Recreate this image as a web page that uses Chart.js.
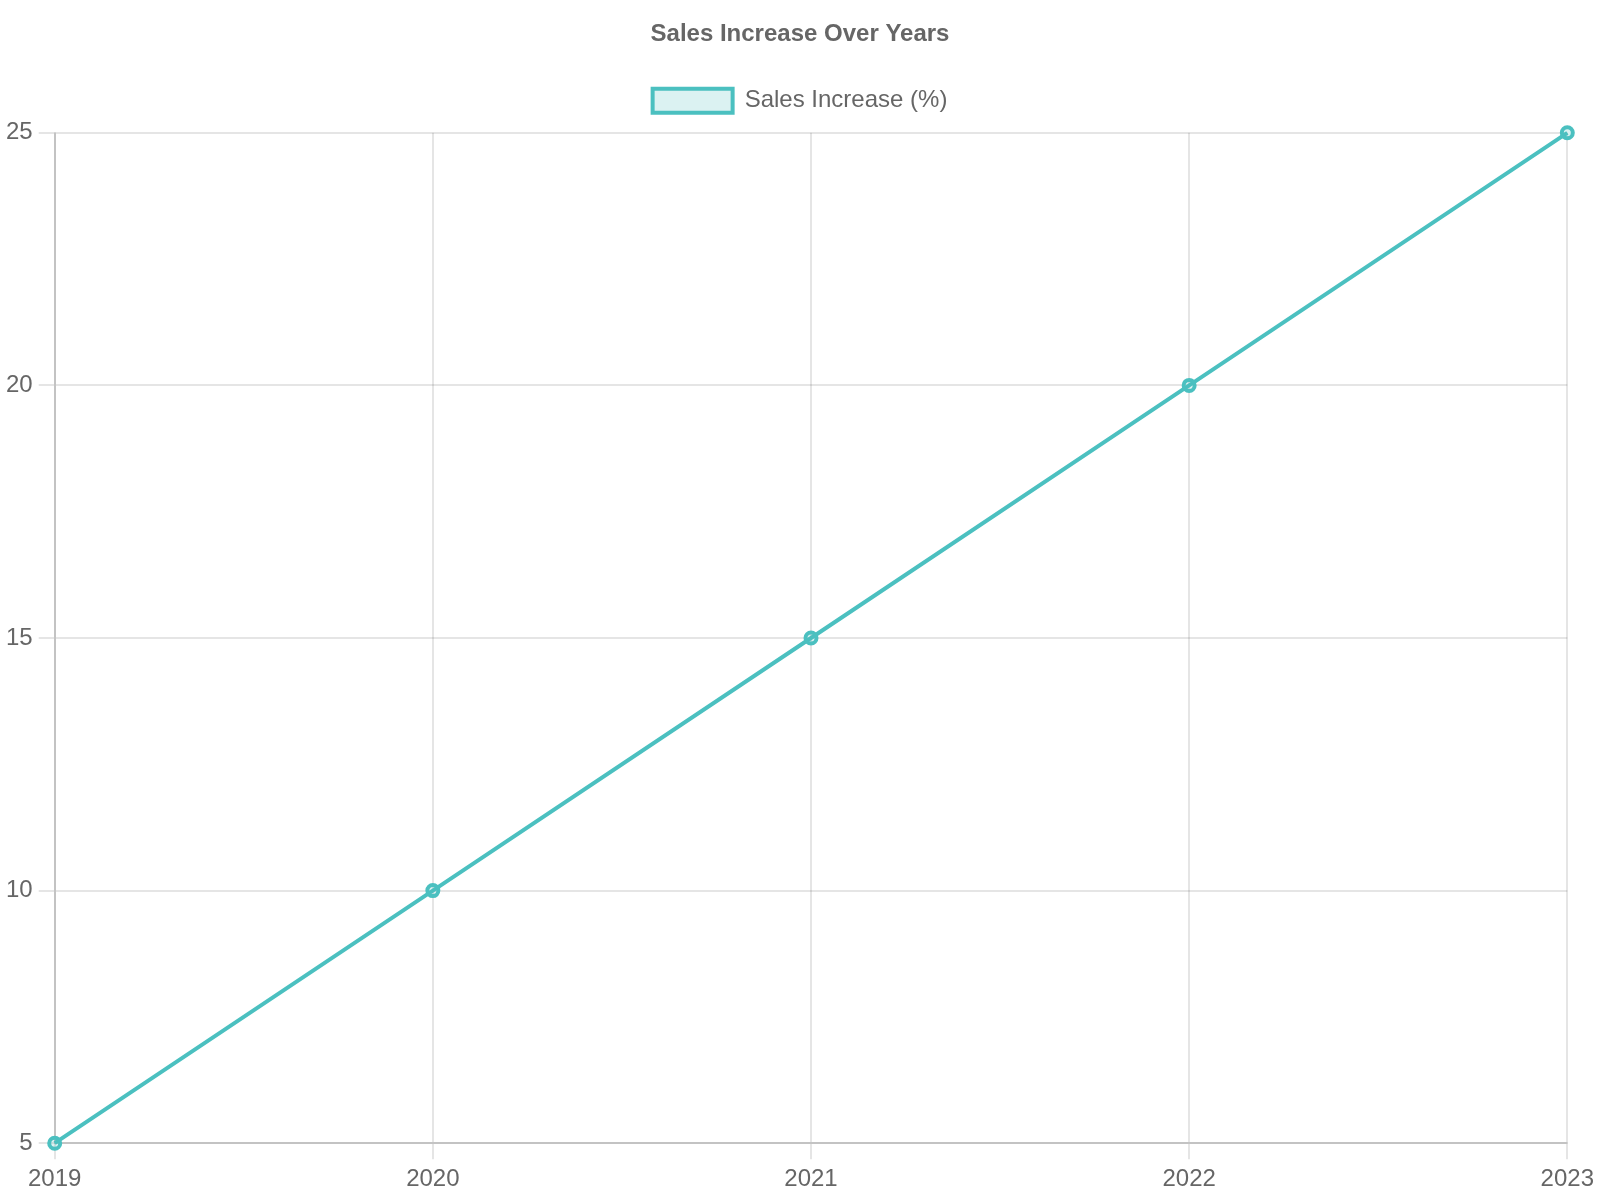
<!DOCTYPE html>
<html><head><meta charset="utf-8">
<script src="https://cdn.jsdelivr.net/npm/chart.js@4.4.0/dist/chart.umd.min.js"></script>
<style>html,body{margin:0;padding:0;background:#fff;}#c{display:block;}</style>
</head><body>
<canvas id="c" width="1600" height="1200"></canvas>
<script>
const years = ['2019', '2020', '2021', '2022', '2023'];
const salesIncrease = [5, 10, 15, 20, 25];
const yTicks = [5, 10, 15, 20, 25];

Chart.defaults.font.family = '"Liberation Sans", Arial, sans-serif';
Chart.defaults.font.size = 24;
Chart.defaults.color = '#666';

const legendMargin = {
  id: 'legendMargin',
  beforeInit(chart) {
    const lg = chart.legend;
    if (!lg) return;
    const origFit = lg.fit;
    lg.fit = function () { origFit.call(this); this.height += 10; };
  }
};

new Chart(document.getElementById('c'), {
  type: 'line',
  data: {
    labels: years,
    datasets: [{
      label: 'Sales Increase (%)',
      data: salesIncrease,
      borderColor: 'rgb(75,192,192)',
      backgroundColor: 'rgba(75,192,192,0.2)',
      borderWidth: 4,
      pointRadius: 5.5,
      pointBorderWidth: 4,
      fill: false,
      clip: false,
      tension: 0
    }]
  },
  plugins: [legendMargin],
  options: {
    responsive: false,
    devicePixelRatio: 1,
    animation: false,
    layout: { padding: 0 },
    plugins: {
      title: { display: true, text: 'Sales Increase Over Years', font: { size: 24, weight: 'bold' }, padding: { top: 20, bottom: 20 } },
      legend: { labels: { boxWidth: 80, boxHeight: 24, padding: 20 } }
    },
    scales: {
      x: {
        grid: { color: 'rgba(0,0,0,0.1)', lineWidth: 2, tickLength: 16 },
        border: { color: 'rgba(0,0,0,0.15)', width: 2 },
        ticks: { padding: 6, maxRotation: 0 }
      },
      y: {
        min: 5, max: 25,
        afterBuildTicks: (axis) => { axis.ticks = yTicks.map(v => ({ value: v })); },
        grid: { color: 'rgba(0,0,0,0.1)', lineWidth: 2, tickLength: 16 },
        border: { color: 'rgba(0,0,0,0.15)', width: 2 },
        ticks: { padding: 6 }
      }
    }
  }
});
</script>
</body></html>
